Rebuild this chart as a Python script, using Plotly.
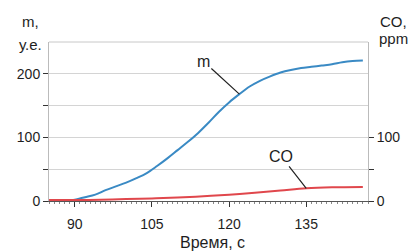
import plotly.graph_objects as go

time_m = [85, 87, 89, 90, 91, 92, 94, 96, 98, 100, 102, 104, 106, 108, 110, 112, 114, 116, 118, 120,
          122, 124, 126, 128, 130, 132, 134, 136, 138, 140, 142, 144, 146]
m_values = [1, 1, 1.5, 2, 4, 6, 10, 17, 23, 29, 36, 44, 55, 67, 80, 93, 107, 123, 140, 155,
            168, 180, 189, 196, 202, 206, 209, 211, 213, 215, 218, 220, 221]

time_co = [85, 90, 95, 100, 105, 110, 115, 120, 125, 130, 135, 140, 146]
co_values = [1.5, 1.5, 2, 3, 4, 5.5, 7.5, 10, 13, 16.5, 20, 21.5, 22]

x_ticks = [90, 105, 120, 135]
left_tickvals = [0, 50, 100, 150, 200]
left_ticktext = ["0", "", "100", "", "200"]
right_tickvals = [0, 50, 100]
right_ticktext = ["0", "", "100"]

FONT = "Liberation Sans, Arial, sans-serif"
BLUE = "#3a8ac4"
RED = "#e0474c"
TXT = "#1e1e1e"

W, H = 411, 251
L, R, T, B = 49, 43, 42, 50
PW, PH = W - L - R, H - T - B

fig = go.Figure()
fig.add_trace(go.Scatter(x=time_m, y=m_values, mode="lines", line=dict(color=BLUE, width=2),
                         line_shape="spline", showlegend=False))
fig.add_trace(go.Scatter(x=time_co, y=co_values, mode="lines", line=dict(color=RED, width=2),
                         line_shape="spline", showlegend=False, yaxis="y2"))

fig.update_layout(
    width=W, height=H,
    margin=dict(l=L, r=R, t=T, b=B, autoexpand=False),
    paper_bgcolor="white", plot_bgcolor="white",
    font=dict(family=FONT, size=14, color=TXT),
    xaxis=dict(range=[85, 147], tickvals=x_ticks, ticks="outside", ticklen=5, tickcolor="#333",
               showline=True, linecolor="#555", linewidth=1, showgrid=False, zeroline=False,
               automargin=False, ticklabelstandoff=5,
               minor=dict(dtick=1, ticks="outside", ticklen=2, tickcolor="#888")),
    yaxis=dict(range=[0, 250], tickvals=left_tickvals, ticktext=left_ticktext, ticks="outside",
               ticklen=5, tickcolor="#333", showline=True, linecolor="#bbbbbb", showgrid=True,
               gridcolor="#d4d4d4", zeroline=False, automargin=False),
    yaxis2=dict(range=[0, 250], overlaying="y", side="right", tickvals=right_tickvals,
                ticktext=right_ticktext, ticks="outside", ticklen=5, tickcolor="#333",
                showline=True, linecolor="#bbbbbb", showgrid=False, zeroline=False,
                automargin=False),
    shapes=[dict(type="line", xref="paper", yref="paper", x0=0, x1=1, y0=1, y1=1,
                 line=dict(color="#c8c8c8", width=1))],
)

annos = [
    dict(text="m,", x=30, y=21, size=15),
    dict(text="у.е.", x=30, y=44, size=15),
    dict(text="CO,", x=393, y=21, size=15),
    dict(text="ppm", x=393, y=38, size=15),
    dict(text="Время, с", x=212, y=242, size=16),
]
for a in annos:
    fig.add_annotation(text=a["text"], xref="paper", yref="paper",
                       x=(a["x"] - L) / PW, y=(H - B - a["y"]) / PH,
                       xanchor="center", yanchor="middle", showarrow=False,
                       font=dict(size=a["size"], color=TXT))

# leader-line labels pointing at series points
fig.add_annotation(x=time_m[20], y=m_values[20], text="m", showarrow=True, arrowhead=0,
                   arrowwidth=1.2, arrowcolor="#222", ax=-36, ay=-33, standoff=0,
                   font=dict(size=16, color=TXT))
fig.add_annotation(x=time_co[10], y=co_values[10], yref="y2", text="CO", showarrow=True,
                   arrowhead=0, arrowwidth=1.2, arrowcolor="#222", ax=-25, ay=-32, standoff=0,
                   font=dict(size=16, color=TXT))

fig.write_html("out.html", config={"displayModeBar": False},
               post_script="document.body.style.margin='0';document.body.style.padding='0';")
